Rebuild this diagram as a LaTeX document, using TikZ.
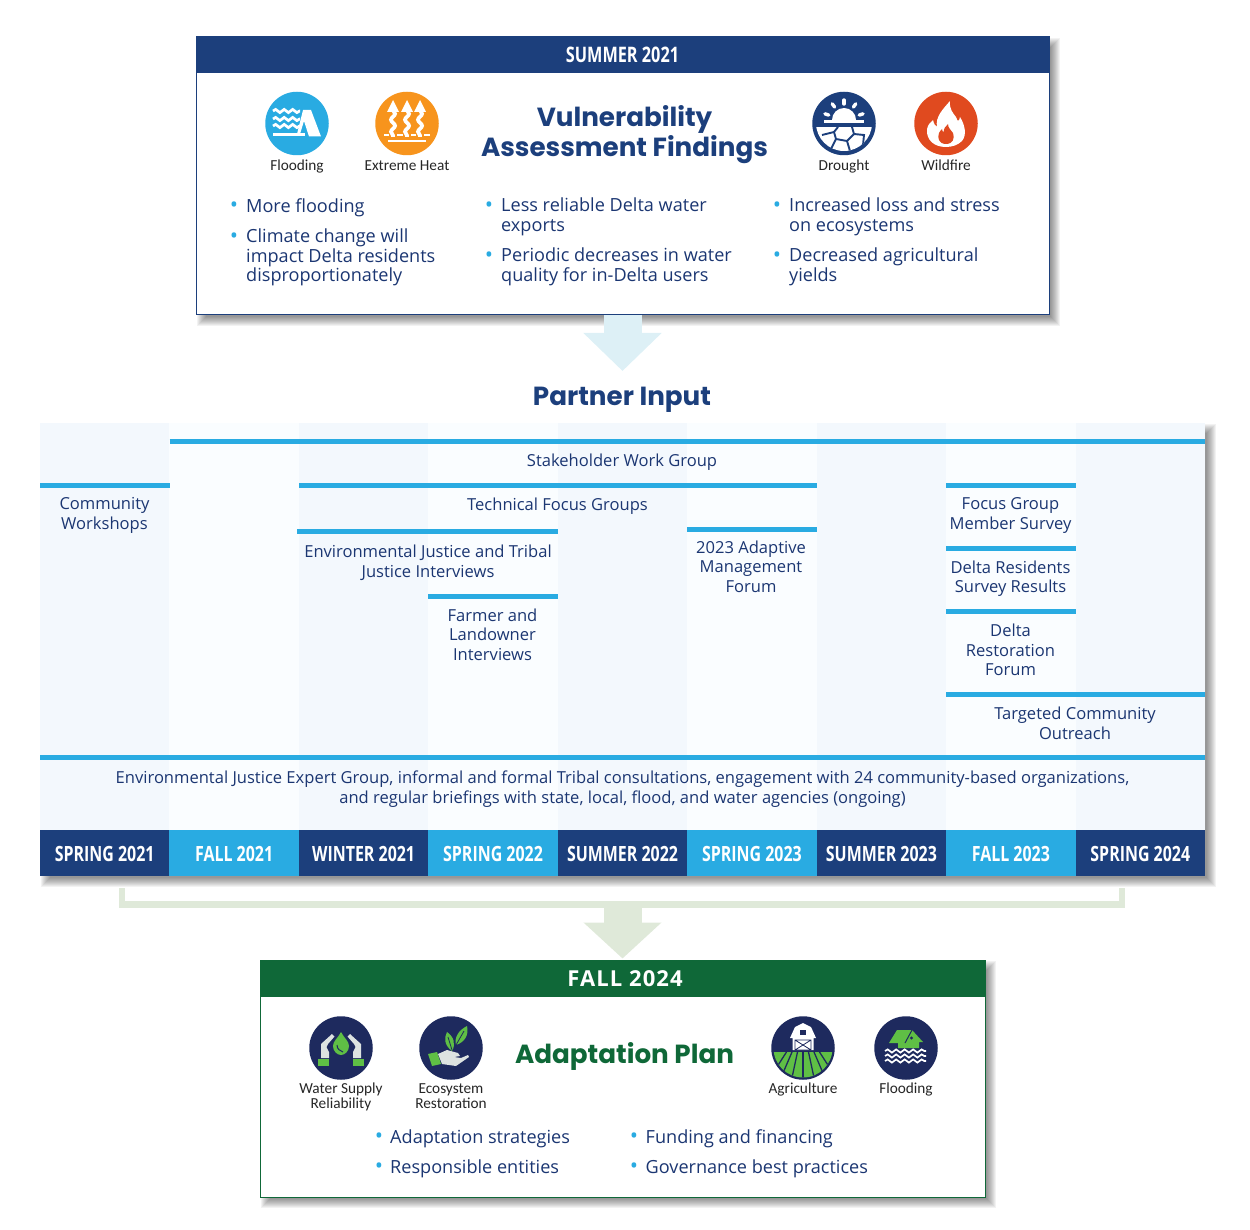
\documentclass[tikz,border=0pt]{standalone}
\usepackage{fontspec}
\setmainfont{Open Sans}
\newfontfamily\titlefont{Poppins}
\newfontfamily\condfont[FakeStretch=0.76]{Open Sans}
\newfontfamily\spacedfont[LetterSpace=5]{Open Sans}
\newfontfamily\iconfont{Carlito}
\usetikzlibrary{arrows.meta,decorations.pathmorphing}
\definecolor{navy}{HTML}{1C3F7C}
\definecolor{deepnavy}{HTML}{1E2A5E}
\definecolor{sky}{HTML}{29ABE2}
\definecolor{inktext}{HTML}{1B3672}
\definecolor{planbar}{HTML}{0F6838}
\definecolor{leaf}{HTML}{5FBF45}
\definecolor{heat}{HTML}{F7941D}
\definecolor{fire}{HTML}{E04A1F}
\definecolor{paleblue}{HTML}{DDF0F6}
\definecolor{palegreen}{HTML}{DFE9D9}
\definecolor{stripea}{HTML}{F3F8FD}
\definecolor{stripeb}{HTML}{FAFDFF}
\definecolor{handgrey}{HTML}{DDE3E1}
\newcommand{\softshadow}[4]{%
  \foreach \k in {-5,-4,...,4}
    \fill[black,opacity=.05] (#1+6+\k,#2+6+\k) rectangle (#3+6-\k,#4+6-\k);}

\begin{document}
\begin{tikzpicture}[
    x=1pt, y=-1pt,
    panel/.style={draw, line width=1pt, fill=white, inner sep=0pt, outer sep=0pt},
    panelhead/.style={inner sep=0pt, outer sep=0pt, text=white},
    stripe/.style={minimum width=129.6pt, minimum height=407pt, inner sep=0pt, outer sep=0pt},
    term/.style={minimum width=129.6pt, minimum height=46pt, inner sep=0pt, outer sep=0pt,
        text=white, text height=17pt, text depth=0pt,
        font=\condfont\fontsize{21}{24}\selectfont\bfseries},
    bar/.style={draw=sky, line width=5pt},
    title/.style={text=navy, inner sep=0pt, align=center,
        font=\titlefont\fontsize{26.2}{30}\selectfont\bfseries},
    bodytxt/.style={text=inktext, inner sep=0pt, anchor=west, align=left,
        font=\fontsize{18.1}{19.7}\selectfont},
    rowlabel/.style={text=inktext, inner sep=0pt, align=center,
        font=\fontsize{16.55}{19.6}\selectfont},
    dotmark/.style={text=sky, inner sep=0pt, font=\fontsize{22}{24}\selectfont},
    icon/.style={circle, minimum size=63.5pt, inner sep=0pt, outer sep=0pt},
    iconlabel/.style={text=black!85, inner sep=0pt, align=center,
        font=\iconfont\fontsize{15.3}{15.2}\selectfont},
    flow/.style={line width=38pt},
    wavy/.style={decorate, decoration={snake, amplitude=1.6pt, segment length=8.5pt}}
]
\useasboundingbox (0,0) rectangle (1250,1230);

% top panel
\softshadow{196}{37}{1049}{315}
\node[panel, draw=navy, minimum width=853pt, minimum height=278pt] (findings) at (622.5,176) {};
\node[panelhead, fill=navy, minimum width=854pt, minimum height=37pt,
    font=\condfont\fontsize{21.4}{24}\selectfont\bfseries] (summer) at (622.5,55) {SUMMER 2021};
\node[title] (vuln) at (624.5,134.5) {Vulnerability\\Assessment Findings};

\node[icon, fill=sky] (iflood) at (297,123.5) {};
\node[icon, fill=heat] (iheat) at (407,123.5) {};
\node[icon, fill=navy] (idrought) at (844,123.5) {};
\node[icon, fill=fire] (ifire) at (946,123.5) {};
\node[iconlabel, anchor=base] (lflood) at (297,171) {Flooding};
\node[iconlabel, anchor=base] (lheat) at (407,171) {Extreme Heat};
\node[iconlabel, anchor=base] (ldrought) at (844,171) {Drought};
\node[iconlabel, anchor=base] (lfire) at (946,171) {Wildfire};

% flooding
\begin{scope}[shift={(297,123)}]
  \foreach \y in {-12,-4,3}
    \draw[white, line width=2.7pt, wavy] (-24,\y) -- (3,\y);
  \fill[white] (-24,10.5) rectangle (8,13.5);
  \fill[white] (6,-13) -- (14,-13) -- (24,13.5) -- (12,13.5) -- (7,-2) -- (3,11) -- (0,11) -- cycle;
\end{scope}
% extreme heat
\begin{scope}[shift={(407,123)}]
  \foreach \x in {-14,0,13} {
    \draw[white, line width=3.8pt, decorate, decoration={snake, amplitude=2pt, segment length=12pt}]
        (\x,-13) -- (\x,14);
    \fill[white] (\x,-23) -- (\x+6,-11) -- (\x-6,-11) -- cycle;
  }
  \draw[white, line width=2.6pt] (-23,12) -- (-18,12) (-10,12) -- (-4,12) (4,12) -- (9,12) (17,12) -- (23,12);
  \draw[white, line width=2.6pt] (-19,18) -- (19,18);
\end{scope}
% drought
\begin{scope}[shift={(844,123)}]
  \begin{scope}
    \clip (-20,-3) rectangle (20,-30);
    \fill[white] (0,-3) circle[radius=12];
  \end{scope}
  \fill[white] (-20,-3) rectangle (20,0.5);
  \foreach \a in {18,54,90,126,162}
    \draw[white, line width=3.4pt, line cap=round]
      ({16*cos(\a)},{-3-16*sin(\a)}) -- ({20*cos(\a)},{-3-20*sin(\a)});
  \begin{scope}
    \clip (0,0) circle[radius=28];
    \fill[white] (-30,4) rectangle (30,30);
    \draw[navy, line width=1.9pt] (-22,12) -- (-10,9) -- (-6,4) (-10,9) -- (-8,16) -- (-14,28)
      (-8,16) -- (3,18) -- (6,28) (3,18) -- (10,11) -- (8,4) (10,11) -- (20,12) -- (19,22);
  \end{scope}
\end{scope}
% wildfire
\begin{scope}[shift={(946,123)}]
  \fill[white] (0,24) .. controls (-12,24) and (-20,17) .. (-19,6)
    .. controls (-18,1) and (-15,-1) .. (-13,-3) .. controls (-12,1) and (-11,3) .. (-9,4)
    .. controls (-11,-6) and (-3,-14) .. (4,-22) .. controls (3,-14) and (7,-10) .. (10,-6)
    .. controls (11,-4) and (11,-3) .. (12,-2) .. controls (13,-3) and (14,-4) .. (14,-6)
    .. controls (19,2) and (21,12) .. (16,18) .. controls (12,22) and (6,24) .. (0,24) -- cycle;
  \fill[fire] (0,21) .. controls (-7,21) and (-9,15) .. (-7,10) .. controls (-6,8) and (-5,7) .. (-4,6)
    .. controls (-4,8) and (-3,9) .. (-2,9) .. controls (-3,6) and (0,3) .. (2,1)
    .. controls (2,5) and (5,7) .. (7,10) .. controls (9,15) and (7,21) .. (0,21) -- cycle;
\end{scope}

\foreach \i/\x/\y/\txt in {1/246/207.5/{More flooding},
    2/246/257.5/{Climate change will\\impact Delta residents\\disproportionately},
    3/501/217/{Less reliable Delta water\\exports},
    4/501/267/{Periodic decreases in water\\quality for in-Delta users},
    5/789/217/{Increased loss and stress\\on ecosystems},
    6/789/267/{Decreased agricultural\\yields}}
  \node[bodytxt] (find\i) at (\x,\y) {\txt};
\foreach \i/\x/\y in {1/234/207,2/234/238,3/489/207,4/489/257,5/777/207,6/777/257}
  \node[dotmark] (fdot\i) at (\x,\y) {•};

% first arrow
\coordinate (inputtop) at (622.5,371);
\draw[flow, paleblue, -{Triangle[width=76pt,length=38pt]}] (findings.south) -- (inputtop);
\node[title] (input) at (622,399.5) {Partner Input};

% timeline table
\softshadow{40}{423}{1205}{876}
\foreach \i/\lab in {1/SPRING 2021,2/FALL 2021,3/WINTER 2021,4/SPRING 2022,5/SUMMER 2022,
    6/SPRING 2023,7/SUMMER 2023,8/FALL 2023,9/SPRING 2024} {
  \pgfmathsetmacro{\cx}{104.7+129.45*(\i-1)}
  \ifodd\i
    \node[stripe, fill=stripea] (col\i) at (\cx,626.5) {};
    \node[term, fill=navy] (term\i) at (\cx,853) {\lab};
  \else
    \node[stripe, fill=stripeb] (col\i) at (\cx,626.5) {};
    \node[term, fill=sky] (term\i) at (\cx,853) {\lab};
  \fi
}
\foreach \a/\b/\y in {169.5/1205/441, 40/169.5/485, 299/817/485, 946/1075.5/485,
    297/558/531, 687/817/529, 946/1075.5/548, 428/558/596, 946/1075.5/611,
    946/1205/694, 40/1205/757.5}
  \draw[bar] (\a,\y) -- (\b,\y);

\node[rowlabel] (swg) at (622,462) {Stakeholder Work Group};
\node[rowlabel] (cw) at (104.5,515.5) {Community\\Workshops};
\node[rowlabel] (tfg) at (557.5,506) {Technical Focus Groups};
\node[rowlabel] (fgm) at (1010.5,515.5) {Focus Group\\Member Survey};
\node[rowlabel] (eji) at (428,562.5) {Environmental Justice and Tribal\\Justice Interviews};
\node[rowlabel] (amf) at (751,566.5) {2023 Adaptive\\Management\\Forum};
\node[rowlabel] (drs) at (1010.5,578.5) {Delta Residents\\Survey Results};
\node[rowlabel] (fli) at (492.5,634.5) {Farmer and\\Landowner\\Interviews};
\node[rowlabel] (drf) at (1010.5,650) {Delta\\Restoration\\Forum};
\node[rowlabel] (tco) at (1075,723) {Targeted Community\\Outreach};
\node[rowlabel] (ejg) at (622.5,789) {Environmental Justice Expert Group, informal and formal Tribal consultations, engagement with 24 community-based organizations,\\and regular briefings with state, local, flood, and water agencies (ongoing)};

% bracket and second arrow
\coordinate (brackl) at (122,888);
\coordinate (brackr) at (1122,888);
\coordinate (brackm) at (622.5,904);
\draw[palegreen, line width=6.6pt] (brackl) -- ++(0,16.5) -| (brackr);

% bottom panel
\softshadow{260}{960}{985}{1197}
\node[panel, draw=planbar, minimum width=725pt, minimum height=237pt] (plan) at (622.5,1078.5) {};
\node[panelhead, fill=planbar, minimum width=726pt, minimum height=37pt,
    font=\spacedfont\fontsize{22}{24}\selectfont\bfseries] (fall) at (622.5,978.5) {\hspace{5pt}FALL 2024};
\draw[flow, palegreen, shorten >=1.5pt, -{Triangle[width=76pt,length=36pt]}] (brackm) -- (fall.north);
\node[title, text=planbar] (adapt) at (624.5,1056) {Adaptation Plan};

\node[icon, fill=deepnavy] (iwater) at (341,1048) {};
\node[icon, fill=deepnavy] (ieco) at (451,1048) {};
\node[icon, fill=deepnavy] (iagri) at (803,1048) {};
\node[icon, fill=deepnavy] (iflood2) at (906,1048) {};
\node[iconlabel] (lwater) at (341,1097) {Water Supply\\Reliability};
\node[iconlabel] (leco) at (451,1096) {Ecosystem\\Restoration};
\node[iconlabel, anchor=base] (lagri) at (803,1093) {Agriculture};
\node[iconlabel, anchor=base] (lflood2) at (906,1093) {Flooding};

% water supply
\begin{scope}[shift={(341,1048)}]
  \foreach \s in {1,-1} {
    \begin{scope}[xscale=\s]
      \fill[handgrey] (-20,10) -- (-20,-4) -- (-9,-14) -- (-6.5,-11.5) -- (-13,-4) -- (-14.5,-1) -- (-12,4) -- (-12,10) -- cycle;
      \fill[leaf] (-23,11) rectangle (-12,18);
    \end{scope}
  }
  \fill[leaf] (0,-16) .. controls (3,-10) and (8,-7) .. (8,-2) .. controls (8,3) and (4,7) .. (0,7)
    .. controls (-4,7) and (-8,3) .. (-8,-2) .. controls (-8,-7) and (-3,-10) .. (0,-16) -- cycle;
  \draw[deepnavy, line width=1pt] (-4,-3) .. controls (-4,1) and (-1,3) .. (2,4);
\end{scope}
% ecosystem restoration
\begin{scope}[shift={(451,1048)}]
  \fill[leaf] (-23,6) -- (-14,4) -- (-10,16) -- (-19,18) -- cycle;
  \fill[handgrey] (-13,6) -- (-4,2) -- (7,5) -- (9,8) -- (3,9) -- (10,10) -- (17,7) -- (18,9) -- (5,18) -- (-9,16) -- cycle;
  \fill[leaf] (1,3) .. controls (-7,-3) and (-7,-10) .. (-4,-16) .. controls (3,-11) and (5,-4) .. (1,3) -- cycle;
  \fill[leaf] (5,-3) .. controls (3,-11) and (8,-18) .. (16,-22) .. controls (18,-13) and (14,-6) .. (5,-3) -- cycle;
  \draw[deepnavy, line width=.8pt] (1,2) -- (-3,-11) (5,-3) -- (13,-17);
\end{scope}
% agriculture
\begin{scope}[shift={(803,1048)}]
  \begin{scope}
    \clip (0,0) circle[radius=29.5];
    \fill[leaf] (-32,4) rectangle (32,32);
    \foreach \x in {-30,-20,-10,0,10,20,30}
      \draw[deepnavy, line width=1.3pt] ({\x*.55},4) -- ({\x*1.15},32);
  \end{scope}
  \fill[white] (-13,-10) -- (-8,-21) -- (0,-25) -- (8,-21) -- (13,-10) -- (10.5,-10) -- (10.5,2) -- (-10.5,2) -- (-10.5,-10) -- cycle;
  \fill[deepnavy] (-3,-18) rectangle (3,-13);
  \draw[deepnavy, line width=.8pt] (-8,-8) rectangle (8,2) (-8,-8) -- (8,2) (-8,2) -- (8,-8);
\end{scope}
% flooding, house
\begin{scope}[shift={(906,1048)}]
  \fill[leaf] (-17,-5) -- (-9,-18) -- (6,-18) -- (17,-6) -- (13,-6) -- (13,0) -- (-8,0) -- (-8,-5) -- cycle;
  \draw[deepnavy, line width=1pt] (6,-18) -- (-1,-5);
  \fill[deepnavy] (5.5,-10) circle[radius=1.6];
  \foreach \y in {3,8,13}
    \draw[white, line width=1.7pt, wavy] (-21,\y) -- (20,\y);
\end{scope}

\foreach \i/\x/\y/\txt in {1/390/1138.5/{Adaptation strategies},2/390/1168.5/{Responsible entities},
    3/645.5/1138.5/{Funding and financing},4/645.5/1168.5/{Governance best practices}}
  \node[bodytxt] (pl\i) at (\x,\y) {\txt};
\foreach \i/\x/\y in {1/379/1138,2/379/1168,3/634/1138,4/634/1168}
  \node[dotmark] (pdot\i) at (\x,\y) {•};
\end{tikzpicture}
\end{document}
